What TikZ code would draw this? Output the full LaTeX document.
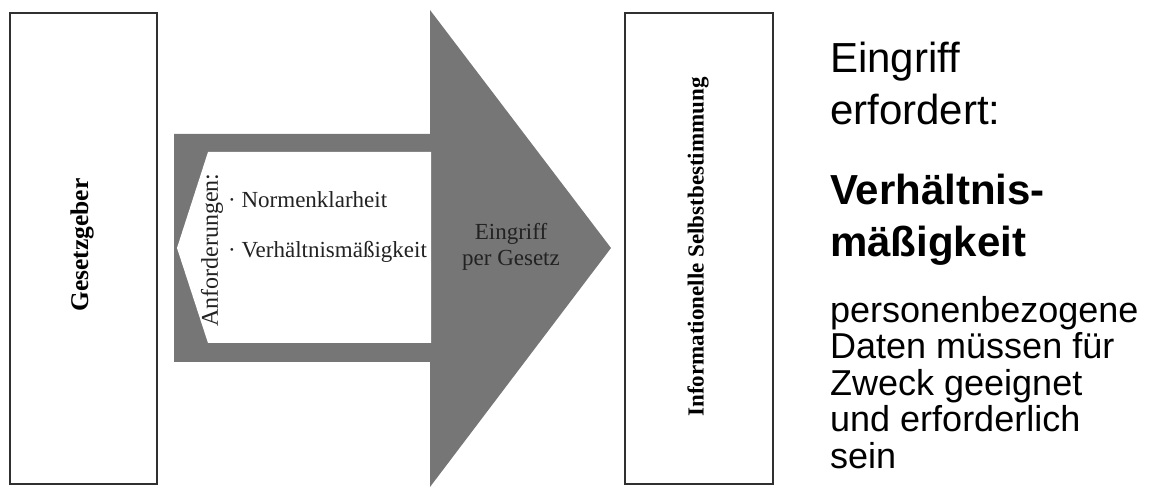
\documentclass[tikz,border=0pt]{standalone}
\usepackage{fontspec}
\setmainfont{Liberation Serif}
\newfontfamily\helv{Liberation Sans}
\definecolor{arrowgray}{RGB}{118,118,118}
\definecolor{framegray}{RGB}{48,48,48}
\definecolor{inktext}{RGB}{34,34,34}
\begin{document}
\begin{tikzpicture}[x=1pt,y=-1pt,
  actor/.style={draw=framegray,line width=1.4pt,fill=white},
  sidelabel/.style={rotate=90,font=\bfseries\fontsize{23}{26}\selectfont,inner sep=0pt},
  serif/.style={font=\fontsize{23}{26}\selectfont,inner sep=0pt,text=inktext},
  note/.style={font=\helv\fontsize{42}{52}\selectfont,align=left,inner sep=0pt,anchor=base west},
  smallnote/.style={font=\helv\fontsize{36}{36.5}\selectfont,align=left,inner sep=0pt,anchor=base west}]
\useasboundingbox (0,0) rectangle (1151,502);

% the two parties
\draw[actor] (10,13) rectangle (157,484);
\node[sidelabel,font=\bfseries\fontsize{25.5}{28}\selectfont] (gesetzgeber) at (82,245) {Gesetzgeber};
\draw[actor] (625,13) rectangle (773,484);
\node[sidelabel] (selbst) at (698,247) {Informationelle Selbstbestimmung};

% the big arrow of the intervention
\fill[arrowgray] (174,134) -- (430,134) -- (430,10) -- (611,248) -- (430,487)
  -- (430,362) -- (174,362) -- cycle;
% requirements panel cut out of the shaft
\fill[white] (177,248) -- (208,152) -- (431,152) -- (431,343) -- (208,343) -- cycle;

\node[serif,rotate=90,font=\fontsize{24}{26}\selectfont] (anf) at (212,250) {Anforderungen:};
\node[serif,anchor=base west] (normen) at (228,208) {· Normenklarheit};
\node[serif,anchor=base west] (verh) at (228,258) {· Verhältnismäßigkeit};
% multi-line nodes sit on the baseline of their last line
\node[serif,align=center,anchor=base] (eingriff) at (511,266) {Eingriff\\per Gesetz};

% notes on the right
\node[note] (erfordert) at (830,125) {Eingriff\\erfordert:};
\node[note,font=\helv\bfseries\fontsize{42}{52}\selectfont] (vm) at (830,257) {Verhältnis-\\mäßigkeit};
\node[smallnote] (daten) at (830,468) {personenbezogene\\Daten müssen für\\Zweck geeignet\\und erforderlich\\sein};
\end{tikzpicture}
\end{document}
